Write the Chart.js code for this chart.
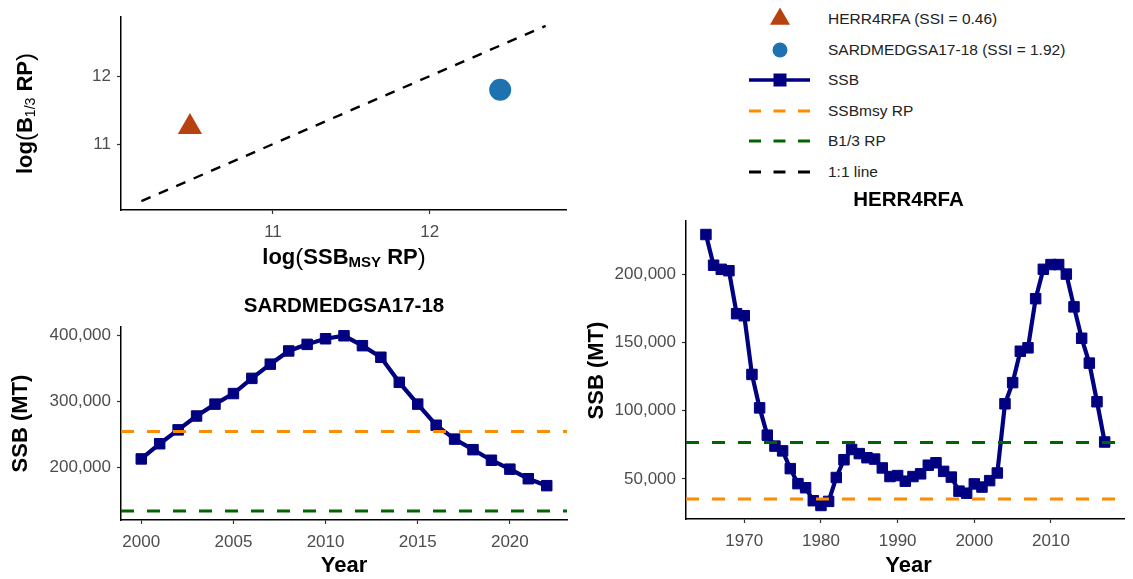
<!DOCTYPE html>
<html>
<head>
<meta charset="utf-8">
<script src="https://cdn.jsdelivr.net/npm/chart.js@4.4.1/dist/chart.umd.min.js"></script>
<style>
body{margin:0;background:#fff;width:1133px;height:579px;overflow:hidden;position:relative;font-family:"Liberation Sans",Arial,sans-serif}
canvas{position:absolute}
.lg-row{position:absolute;left:749px;height:20px}
.lg-row svg{position:absolute;left:0;top:0;overflow:visible}
.lg-row span{position:absolute;left:79px;top:1px;white-space:nowrap;font-size:15.5px;line-height:18px;color:#222}
</style>
</head>
<body>
<canvas id="ratio" width="580" height="280" style="left:0;top:0"></canvas>
<canvas id="sard" width="580" height="299" style="left:0;top:280px"></canvas>
<canvas id="herr" width="553" height="389" style="left:580px;top:190px"></canvas>
<div id="legend"></div>
<script>
// ---- data ----
const ratioStocks=['HERR4RFA','SARDMEDGSA17-18'];
const logSSBmsy=[10.47,12.45];
const logB13=[11.25,11.80];
const ssi=[0.46,1.92];
const oneToOne=[10.16,12.74];
const ratioTicks=[11,12];
const ratioRange=[10.03,12.87];

const sardYears=[2000,2001,2002,2003,2004,2005,2006,2007,2008,2009,2010,2011,2012,2013,2014,2015,2016,2017,2018,2019,2020,2021,2022];
const sardSSB=[213000,236000,257000,278000,296000,312000,335000,356500,376500,386500,395000,399500,384500,367000,329000,296000,264000,243000,227000,211000,197500,183000,172500];
const sardSSBmsy=254500;
const sardB13=134000;
const sardYearTicks=[2000,2005,2010,2015,2020];
const sardSSBTicks=[200000,300000,400000];
const sardXRange=[1998.9,2023.1];
const sardYRange=[120500,412800];

const herrYears=[1965,1966,1967,1968,1969,1970,1971,1972,1973,1974,1975,1976,1977,1978,1979,1980,1981,1982,1983,1984,1985,1986,1987,1988,1989,1990,1991,1992,1993,1994,1995,1996,1997,1998,1999,2000,2001,2002,2003,2004,2005,2006,2007,2008,2009,2010,2011,2012,2013,2014,2015,2016,2017];
const herrSSB=[229000,206500,203500,202500,171000,169500,126500,102000,82000,74000,70500,57500,46500,43500,34000,30500,33500,51000,64000,71500,68500,65500,64500,58000,51700,52400,48300,51700,53700,60000,61800,55500,51300,41000,39500,46300,44000,48700,54300,105000,120500,143500,146000,182000,203500,207000,207000,200000,176000,153000,134800,106500,77000];
const herrSSBmsy=35300;
const herrB13=76700;
const herrYearTicks=[1970,1980,1990,2000,2010];
const herrSSBTicks=[50000,100000,150000,200000];
const herrXRange=[1962.4,2019.6];
const herrYRange=[20600,238900];

const FONT='"Liberation Sans", Arial, sans-serif';
const C_NAVY='#000080', C_ORANGE='#FF8C00', C_GREEN='#006400', C_TRI='#B8420F', C_DOT='#1F72B0';

Chart.defaults.font.family=FONT;
Chart.defaults.animation=false;

// text drawn on top of each panel (titles, axis titles with subscripts)
const panelText={
  id:'panelText',
  afterDraw(chart,args,opts){
    const ctx=chart.ctx;
    (opts.items||[]).forEach(it=>{
      ctx.save();
      ctx.translate(it.x,it.y);
      if(it.rot) ctx.rotate(it.rot);
      let total=0;
      const parts=it.parts.map(p=>{
        const font=`${p.weight||'bold'} ${p.size||22}px ${FONT}`;
        ctx.font=font;
        const w=ctx.measureText(p.text).width;
        total+=w;
        return {...p,font,w};
      });
      let x=-total/2;
      ctx.fillStyle='#000';ctx.textBaseline='middle';ctx.textAlign='left';
      parts.forEach(p=>{ctx.font=p.font;ctx.fillText(p.text,x,p.dy||0);x+=p.w;});
      ctx.restore();
    });
  }
};

const fmtYear=v=>String(v);
const fmtNum=v=>v.toLocaleString('en-US');
const fmtPlain=v=>String(v);

function axis(range,ticks,fmt,isX,fit){
  return {
    type:'linear',min:range[0],max:range[1],
    afterBuildTicks:s=>{s.ticks=ticks.map(v=>({value:v}));},
    afterFit:s=>{if(isX) s.height=fit; else s.width=fit;},
    grid:{display:true,drawOnChartArea:false,drawTicks:true,tickLength:4,tickColor:'#333',tickWidth:1.2},
    border:{display:true,color:'#000',width:1.5},
    ticks:{color:'#4d4d4d',font:{size:17},padding:isX?8:6,callback:fmt,maxRotation:0,autoSkip:false}
  };
}

function hline(xr,v,color){
  return {data:[{x:xr[0],y:v},{x:xr[1],y:v}],showLine:true,borderColor:color,borderWidth:3,borderDash:[13,13],pointRadius:0,clip:false};
}

function ssbChart(id,years,ssb,msy,b13,xr,yr,xt,yt,pad,yW,xH,title,cx,ty,yx,yy){
  const h=document.getElementById(id).height;
  return new Chart(document.getElementById(id),{
    type:'scatter',
    data:{datasets:[
      hline(xr,msy,C_ORANGE),
      hline(xr,b13,C_GREEN),
      {data:years.map((y,i)=>({x:y,y:ssb[i]})),showLine:true,borderColor:C_NAVY,borderWidth:4.2,
       pointStyle:'rect',pointRadius:7.4,pointBackgroundColor:C_NAVY,pointBorderColor:C_NAVY,pointBorderWidth:1,clip:false}
    ]},
    options:{
      responsive:false,
      layout:{padding:pad},
      scales:{x:axis(xr,xt,fmtYear,true,xH),y:axis(yr,yt,fmtNum,false,yW)},
      plugins:{legend:{display:false},tooltip:{enabled:false},
        panelText:{items:[
          {x:cx,y:ty,parts:[{text:title,size:20.5}]},
          {x:cx,y:h-13,parts:[{text:'Year'}]},
          {x:yx,y:yy,rot:-Math.PI/2,parts:[{text:'SSB (MT)'}]}
        ]}}
    },
    plugins:[panelText]
  });
}

// ---- top-left: log reference points ----
new Chart(document.getElementById('ratio'),{
  type:'scatter',
  data:{datasets:[
    {data:oneToOne.map(v=>({x:v,y:v})),showLine:true,borderColor:'#000',borderWidth:2.4,borderDash:[10,9],pointRadius:0},
    {data:[{x:logSSBmsy[0],y:logB13[0]}],pointStyle:'triangle',pointRadius:14,backgroundColor:C_TRI,borderWidth:0,clip:false},
    {data:[{x:logSSBmsy[1],y:logB13[1]}],pointStyle:'circle',pointRadius:11,backgroundColor:C_DOT,borderWidth:0,clip:false}
  ]},
  options:{
    responsive:false,
    layout:{padding:{left:0,top:17,right:13,bottom:0}},
    scales:{x:axis(ratioRange,ratioTicks,fmtPlain,true,70),y:axis(ratioRange,ratioTicks,fmtPlain,false,121)},
    plugins:{legend:{display:false},tooltip:{enabled:false},
      panelText:{items:[
        {x:344,y:258,parts:[{text:'log'},{text:'(',size:24,weight:'normal'},{text:'SSB'},{text:'MSY',size:15,dy:5},{text:' RP'},{text:')',size:24,weight:'normal'}]},
        {x:26,y:113.5,rot:-Math.PI/2,parts:[{text:'log'},{text:'(',size:24,weight:'normal'},{text:'B'},{text:'1/3',size:14,weight:'normal',dy:5},{text:' RP'},{text:')',size:24,weight:'normal'}]}
      ]}}
  },
  plugins:[panelText]
});

// ---- bottom-left: SARDMEDGSA17-18 ----
ssbChart('sard',sardYears,sardSSB,sardSSBmsy,sardB13,sardXRange,sardYRange,sardYearTicks,sardSSBTicks,
  {left:0,top:47,right:13,bottom:0},121,59,'SARDMEDGSA17-18',344,26,21,143.5);

// ---- right: HERR4RFA ----
ssbChart('herr',herrYears,herrSSB,herrSSBmsy,herrB13,herrXRange,herrYRange,herrYearTicks,herrSSBTicks,
  {left:0,top:31,right:2,bottom:0},106,60,'HERR4RFA',328.5,10,17,180.5);

// ---- legend ----
const dashKey=c=>`<line x1="0" y1="10" x2="61" y2="10" stroke="${c}" stroke-width="3" stroke-dasharray="12 12.5"/>`;
const legendRows=[
  {label:`${ratioStocks[0]} (SSI = ${ssi[0].toFixed(2)})`,key:`<polygon points="31,-1.5 21,15.8 41,15.8" fill="${C_TRI}"/>`},
  {label:`${ratioStocks[1]} (SSI = ${ssi[1].toFixed(2)})`,key:`<circle cx="31" cy="10" r="7.5" fill="${C_DOT}"/>`},
  {label:'SSB',key:`<line x1="0" y1="10" x2="61" y2="10" stroke="${C_NAVY}" stroke-width="3.3"/><rect x="24.5" y="3.5" width="13" height="13" fill="${C_NAVY}"/>`},
  {label:'SSBmsy RP',key:dashKey(C_ORANGE)},
  {label:'B1/3 RP',key:dashKey(C_GREEN)},
  {label:'1:1 line',key:dashKey('#000')}
];
const rowY=[19,50,80,111,141,172];
document.getElementById('legend').innerHTML=legendRows.map((r,i)=>
  `<div class="lg-row" style="top:${rowY[i]-10}px"><svg width="62" height="20">${r.key}</svg><span>${r.label}</span></div>`).join('');
</script>
</body>
</html>
